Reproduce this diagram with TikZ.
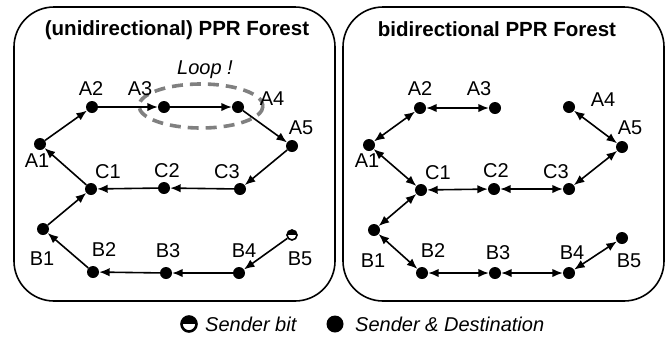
\documentclass[tikz,border=0pt]{standalone}
\usepackage{fontspec}
\setmainfont{Liberation Sans}
\usetikzlibrary{arrows.meta}

\tikzset{
  dot/.style={circle, fill=black, inner sep=0pt, minimum size=12pt},
  halfdot/.style={circle, draw=black, line width=1.6pt, fill=white, inner sep=0pt,
    minimum size=#1,
    path picture={\fill[black] (path picture bounding box.west) rectangle
      (path picture bounding box.north east);}},
  lbl/.style={font=\fontsize{20}{22}\selectfont, inner sep=0pt},
  ttl/.style={font=\fontsize{20.5}{24}\selectfont\bfseries, inner sep=0pt},
  leg/.style={font=\fontsize{20}{24}\selectfont\itshape, inner sep=0pt, anchor=west},
  arr/.style={-{Latex[length=10.5pt,width=8.5pt]}, line width=1.6pt},
  barr/.style={{Latex[length=10.5pt,width=8.5pt]}-{Latex[length=10.5pt,width=8.5pt]}, line width=1.6pt},
  panel/.style={draw=black, line width=1.6pt, rounded corners=40pt},
  loop/.style={draw=black!50, line width=3.6pt, dash pattern=on 11pt off 7pt},
}

\begin{document}
\begin{tikzpicture}[x=1pt, y=-1pt]
  \useasboundingbox[fill=white] (0,0) rectangle (672,341);

  % panels
  \draw[panel] (14,7) rectangle (335,301);
  \draw[panel] (343,7) rectangle (664,301);
  \node[ttl] (tl) at (177,30) {(unidirectional) PPR Forest};
  \node[ttl] (tr) at (497,29) {bidirectional PPR Forest};

  % ---------- unidirectional forest ----------
  \node[dot] (lA1) at (40,144) {};
  \node[dot] (lA2) at (92,107) {};
  \node[dot] (lA3) at (164,107) {};
  \node[dot] (lA4) at (238,107) {};
  \node[dot] (lA5) at (292,146) {};
  \node[dot] (lC1) at (91,189) {};
  \node[dot] (lC2) at (164,188) {};
  \node[dot] (lC3) at (240,189) {};
  \node[dot] (lB1) at (43,229) {};
  \node[dot] (lB2) at (93,272) {};
  \node[dot] (lB3) at (166,273) {};
  \node[dot] (lB4) at (239,273) {};
  \node[halfdot=10pt] (lB5) at (292,235) {};

  \draw[loop] (201,106) ellipse [x radius=62, y radius=22];
  \node[lbl, font=\fontsize{20}{22}\selectfont\itshape] (loopt) at (205,70) {Loop !};

  \draw[arr] (lA1) -- (lA2);
  \draw[arr] (lA2) -- (lA3);
  \draw[arr] (lA3) -- (lA4);
  \draw[arr] (lA4) -- (lA5);
  \draw[arr] (lA5) -- (lC3);
  \draw[arr] (lC3) -- (lC2);
  \draw[arr] (lC2) -- (lC1);
  \draw[arr] (lC1) -- (lA1);
  \draw[arr] (lB1) -- (lC1);
  \draw[arr] (lB2) -- (lB1);
  \draw[arr] (lB3) -- (lB2);
  \draw[arr] (lB4) -- (lB3);
  \draw[arr] (lB5) -- (lB4);

  \node[lbl] (tlA1) at (37,161) {A1};
  \node[lbl] (tlA2) at (91,89) {A2};
  \node[lbl] (tlA3) at (140,89) {A3};
  \node[lbl] (tlA4) at (272,99) {A4};
  \node[lbl] (tlA5) at (301,128) {A5};
  \node[lbl] (tlC1) at (108,172) {C1};
  \node[lbl] (tlC2) at (167,171) {C2};
  \node[lbl] (tlC3) at (227,172) {C3};
  \node[lbl] (tlB1) at (42,259) {B1};
  \node[lbl] (tlB2) at (104,250) {B2};
  \node[lbl] (tlB3) at (168,251) {B3};
  \node[lbl] (tlB4) at (244,251) {B4};
  \node[lbl] (tlB5) at (300,259) {B5};

  % ---------- bidirectional forest ----------
  \node[dot] (rA1) at (369,145) {};
  \node[dot] (rA2) at (420,108) {};
  \node[dot] (rA3) at (495,108) {};
  \node[dot] (rA4) at (569,107) {};
  \node[dot] (rA5) at (622,147) {};
  \node[dot] (rC1) at (421,190) {};
  \node[dot] (rC2) at (494,189) {};
  \node[dot] (rC3) at (569,189) {};
  \node[dot] (rB1) at (374,230) {};
  \node[dot] (rB2) at (422,273) {};
  \node[dot] (rB3) at (495,273) {};
  \node[dot] (rB4) at (569,273) {};
  \node[dot] (rB5) at (622,238) {};

  \draw[barr] (rA1) -- (rA2);
  \draw[barr] (rA2) -- (rA3);
  \draw[barr] (rA4) -- (rA5);
  \draw[barr] (rA5) -- (rC3);
  \draw[barr] (rC3) -- (rC2);
  \draw[barr] (rC2) -- (rC1);
  \draw[barr] (rC1) -- (rA1);
  \draw[barr] (rB1) -- (rC1);
  \draw[barr] (rB2) -- (rB1);
  \draw[barr] (rB3) -- (rB2);
  \draw[barr] (rB4) -- (rB3);
  \draw[barr] (rB5) -- (rB4);

  \node[lbl] (trA1) at (367,161) {A1};
  \node[lbl] (trA2) at (420,89) {A2};
  \node[lbl] (trA3) at (479,89) {A3};
  \node[lbl] (trA4) at (603,100) {A4};
  \node[lbl] (trA5) at (630,128) {A5};
  \node[lbl] (trC1) at (438,173) {C1};
  \node[lbl] (trC2) at (496,171) {C2};
  \node[lbl] (trC3) at (556,172) {C3};
  \node[lbl] (trB1) at (373,261) {B1};
  \node[lbl] (trB2) at (433,251) {B2};
  \node[lbl] (trB3) at (498,253) {B3};
  \node[lbl] (trB4) at (572,253) {B4};
  \node[lbl] (trB5) at (629,261) {B5};

  % ---------- legend ----------
  \node[halfdot=15pt, line width=2.6pt] (kh) at (189,324) {};
  \node[leg] (kht) at (205,324) {Sender bit};
  \node[dot, minimum size=17pt] (kf) at (335,324) {};
  \node[leg] (kft) at (355,324) {Sender \& Destination};
\end{tikzpicture}
\end{document}
